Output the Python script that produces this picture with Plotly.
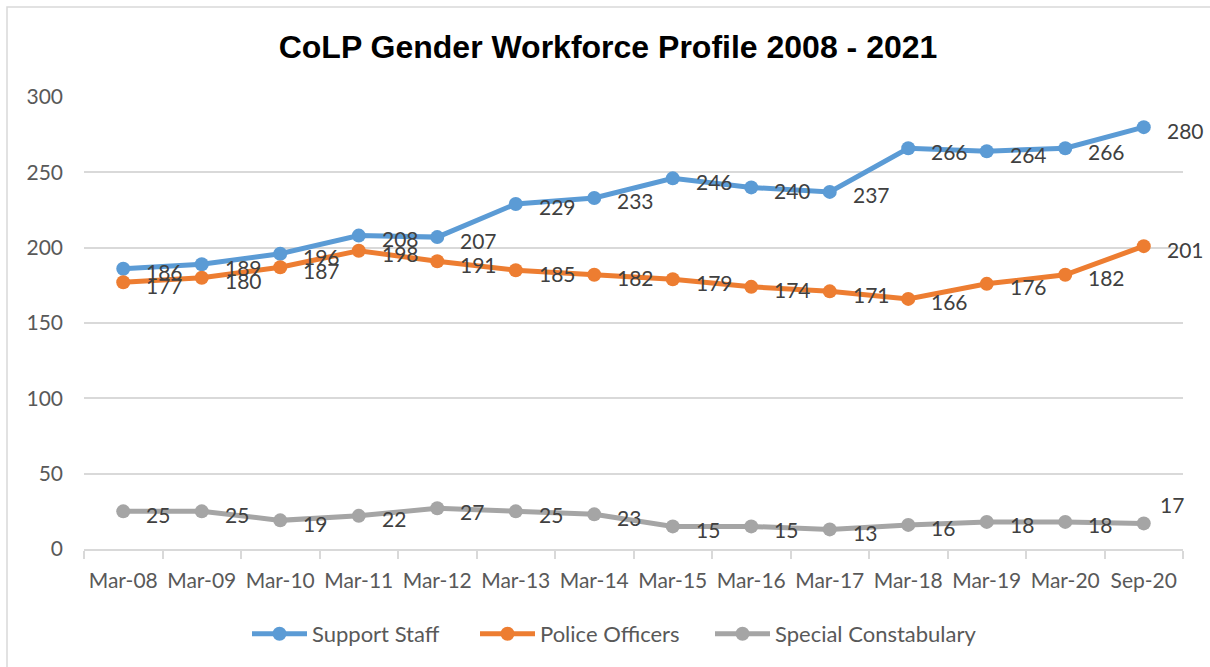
import plotly.graph_objects as go

categories = ["Mar-08", "Mar-09", "Mar-10", "Mar-11", "Mar-12", "Mar-13", "Mar-14",
              "Mar-15", "Mar-16", "Mar-17", "Mar-18", "Mar-19", "Mar-20", "Sep-20"]
support_staff = [186, 189, 196, 208, 207, 229, 233, 246, 240, 237, 266, 264, 266, 280]
police_officers = [177, 180, 187, 198, 191, 185, 182, 179, 174, 171, 166, 176, 182, 201]
special_constabulary = [25, 25, 19, 22, 27, 25, 23, 15, 15, 13, 16, 18, 18, 17]

series = [
    ("Support Staff", support_staff, "#5B9BD5"),
    ("Police Officers", police_officers, "#ED7D31"),
    ("Special Constabulary", special_constabulary, "#A5A5A5"),
]
legend_ids = ["legend", "legend2", "legend3"]
legend_left_px = [252, 480, 715]

W, H = 1210, 667
L, R, T, B = 84, 27, 97, 118

fig = go.Figure()
for (name, vals, color), lid in zip(series, legend_ids):
    fig.add_trace(go.Scatter(
        x=categories, y=vals, name=name, mode="lines+markers",
        line=dict(color=color, width=5),
        marker=dict(color=color, size=14),
        hoverinfo="x+y+name", legend=lid,
    ))

annotations = []
for si, (name, vals, color) in enumerate(series):
    for i, (c, v) in enumerate(zip(categories, vals)):
        xs, ys = 21, -3
        if si == 2 and i == len(vals) - 1:
            xs, ys = 14, 19
        annotations.append(dict(
            x=c, y=v, text=str(v), showarrow=False,
            xanchor="left", yanchor="middle", xshift=xs, yshift=ys,
            font=dict(family="Lato", size=21, color="#404040"),
        ))

legend_style = dict(
    orientation="h", xref="container", xanchor="left",
    y=1 - 634 / H, yref="container", yanchor="middle",
    font=dict(family="Lato", size=22, color="#595959"),
    itemwidth=55, bgcolor="rgba(0,0,0,0)",
    itemclick=False, itemdoubleclick=False,
)

fig.update_layout(
    width=W, height=H,
    margin=dict(l=L, r=R, t=T, b=B),
    paper_bgcolor="white", plot_bgcolor="white",
    title=dict(text="<b>CoLP Gender Workforce Profile 2008 - 2021</b>",
               x=608 / W, xref="container", xanchor="center",
               y=1 - 47 / H, yref="container", yanchor="middle",
               font=dict(family="Liberation Sans", size=32, color="#000000")),
    xaxis=dict(
        type="category", range=[-0.5, 13.5],
        showgrid=False, showline=True, linecolor="#D9D9D9", linewidth=1.5,
        ticks="outside", tickson="boundaries", ticklen=8, tickcolor="#D9D9D9", tickwidth=1.5,
        tickfont=dict(family="Lato", size=21, color="#595959"),
        ticklabelstandoff=12,
        fixedrange=True,
    ),
    yaxis=dict(
        range=[0, 300], dtick=50, showgrid=True, gridcolor="#D9D9D9", gridwidth=1.5,
        zeroline=False, showline=False,
        tickfont=dict(family="Lato", size=21, color="#595959"),
        ticklabelstandoff=20,
        fixedrange=True,
    ),
    legend=dict(legend_style, x=(legend_left_px[0] - 5) / W),
    legend2=dict(legend_style, x=(legend_left_px[1] - 5) / W),
    legend3=dict(legend_style, x=(legend_left_px[2] - 5) / W),
    annotations=annotations,
    showlegend=True,
)

# outer chart-area border (left and top edges visible in the reference)
fig.add_shape(type="rect", xref="paper", yref="paper",
              x0=(7 - L) / (W - L - R), x1=(1220 - L) / (W - L - R),
              y0=(H - B - 680) / (H - T - B), y1=(H - B - 7) / (H - T - B),
              line=dict(color="#D9D9D9", width=1.5), layer="below")

fig.write_html("out.html", config={"displayModeBar": False},
               post_script="document.body.style.margin='0';")
